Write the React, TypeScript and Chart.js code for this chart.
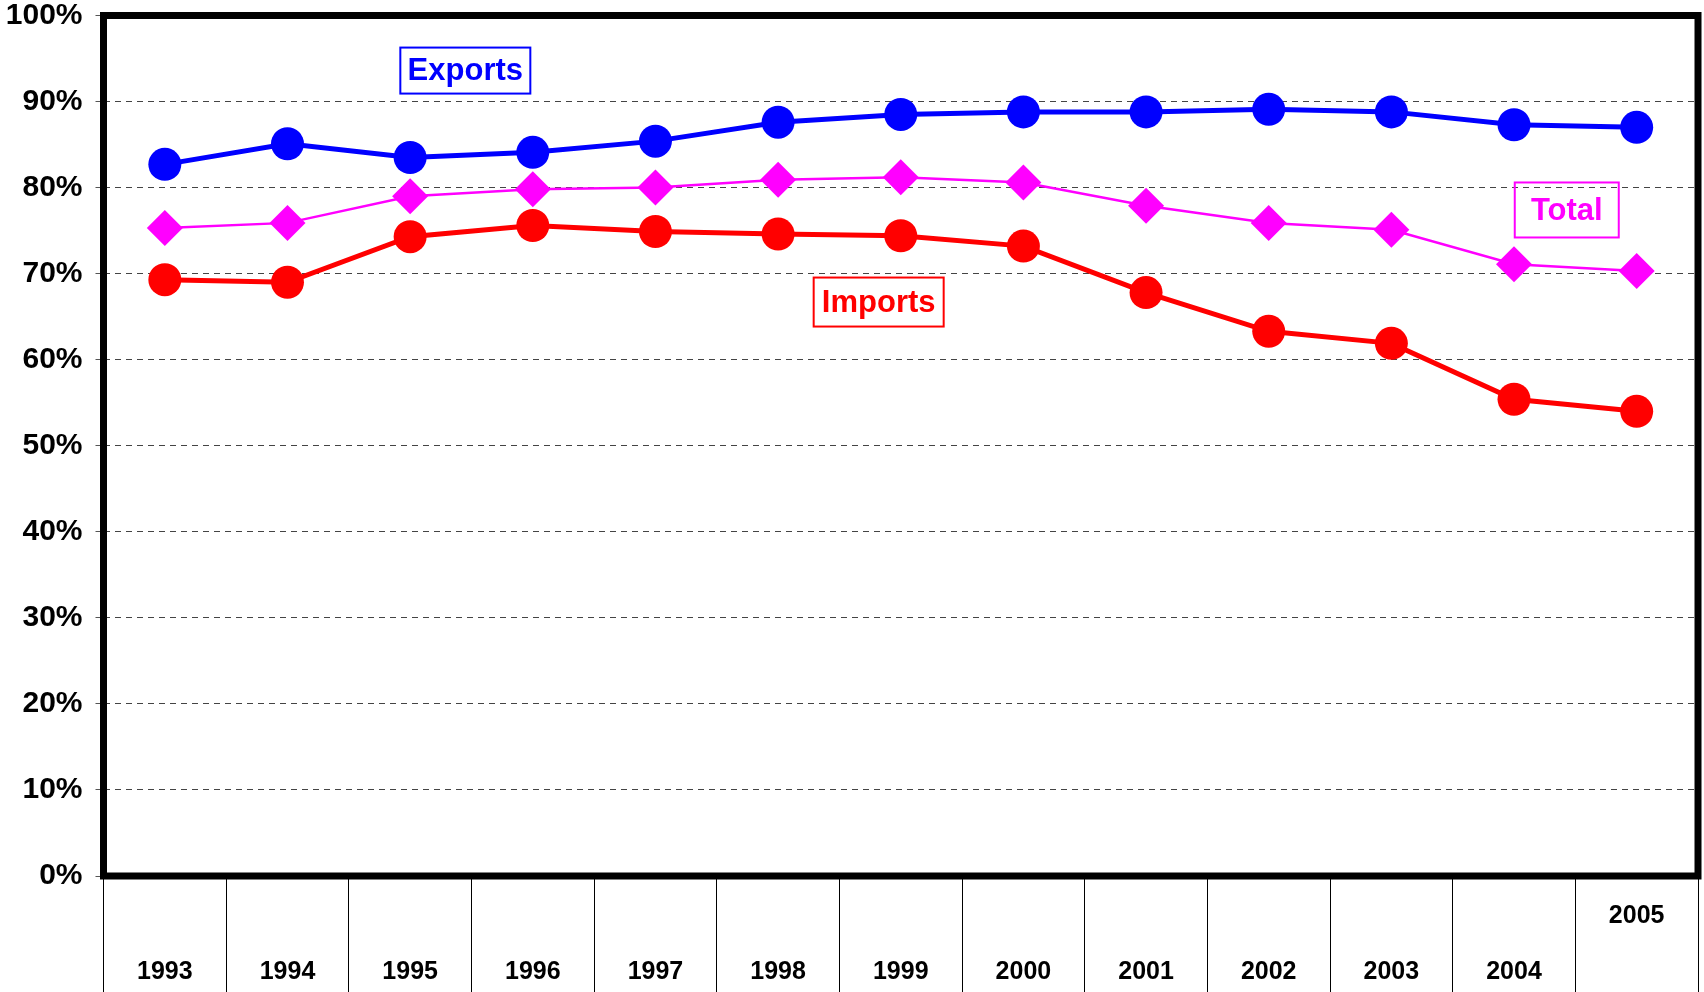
import React, { useEffect, useRef } from 'react';
import { Chart, registerables } from 'chart.js';

Chart.register(...registerables);

const years = ['1993', '1994', '1995', '1996', '1997', '1998', '1999', '2000', '2001', '2002', '2003', '2004', '2005'];
const exportsShare = [82.7, 85.1, 83.5, 84.1, 85.4, 87.6, 88.5, 88.8, 88.8, 89.1, 88.8, 87.3, 87.0];
const totalShare = [75.3, 75.9, 79.0, 79.8, 80.0, 80.9, 81.2, 80.6, 77.9, 75.9, 75.1, 71.1, 70.3];
const importsShare = [69.3, 69.0, 74.3, 75.6, 74.9, 74.6, 74.4, 73.2, 67.8, 63.3, 61.9, 55.4, 54.0];
const seriesNames = ['Exports', 'Total', 'Imports'];

const FONT = '"Liberation Sans", Arial, Helvetica, sans-serif';
const BLUE = '#0000FF';
const MAGENTA = '#FF00FF';
const RED = '#FF0000';

const framePlugin = {
  id: 'frame',
  beforeDatasetsDraw(chart: any) {
    const { ctx, chartArea } = chart;
    ctx.save();
    ctx.strokeStyle = '#000';
    ctx.lineWidth = 7;
    ctx.strokeRect(chartArea.left, chartArea.top, chartArea.right - chartArea.left, chartArea.bottom - chartArea.top);
    ctx.restore();
  },
};

const boxLabelPlugin = {
  id: 'boxLabels',
  afterDatasetsDraw(chart: any, _args: any, opts: any) {
    const { ctx } = chart;
    const xs = chart.scales.x;
    const ys = chart.scales.y;
    ctx.save();
    ctx.font = `bold 31px ${FONT}`;
    ctx.textAlign = 'center';
    ctx.textBaseline = 'middle';
    for (const item of opts.items || []) {
      const cx = xs.getPixelForValue(item.x);
      const cy = ys.getPixelForValue(item.y);
      const w = item.w;
      const h = item.h;
      ctx.strokeStyle = item.color;
      ctx.lineWidth = 2;
      ctx.strokeRect(cx - w / 2, cy - h / 2, w, h);
      ctx.fillStyle = item.color;
      ctx.fillText(item.text, cx, cy + 1);
    }
    ctx.restore();
  },
};

export default function App() {
  const ref = useRef<HTMLCanvasElement>(null);

  useEffect(() => {
    if (!ref.current) return;
    const chart = new Chart(ref.current, {
      type: 'line',
      data: {
        labels: years,
        datasets: [
          {
            label: seriesNames[0],
            data: exportsShare,
            borderColor: BLUE,
            backgroundColor: BLUE,
            borderWidth: 5,
            pointStyle: 'circle',
            pointRadius: 16.5,
            pointBorderWidth: 0,
            pointBackgroundColor: BLUE,
          },
          {
            label: seriesNames[1],
            data: totalShare,
            borderColor: MAGENTA,
            backgroundColor: MAGENTA,
            borderWidth: 2.5,
            pointStyle: 'rectRot',
            pointRadius: 18,
            pointBorderWidth: 0,
            pointBackgroundColor: MAGENTA,
          },
          {
            label: seriesNames[2],
            data: importsShare,
            borderColor: RED,
            backgroundColor: RED,
            borderWidth: 5,
            pointStyle: 'circle',
            pointRadius: 16.5,
            pointBorderWidth: 0,
            pointBackgroundColor: RED,
          },
        ],
      },
      options: {
        responsive: false,
        animation: false,
        devicePixelRatio: 1,
        layout: { autoPadding: false, padding: { top: 15.5, right: 6, left: 0, bottom: 0 } },
        plugins: {
          legend: { display: false },
          tooltip: { enabled: false },
          boxLabels: {
            items: [
              { text: seriesNames[0], color: BLUE, x: 2.45, y: 93.6, w: 130, h: 46 },
              { text: seriesNames[2], color: RED, x: 5.82, y: 66.7, w: 130, h: 49 },
              { text: seriesNames[1], color: MAGENTA, x: 11.43, y: 77.4, w: 104, h: 55 },
            ],
          },
        } as any,
        scales: {
          x: {
            type: 'category',
            offset: true,
            border: { display: false },
            grid: {
              display: true,
              offset: true,
              drawOnChartArea: false,
              drawTicks: true,
              tickLength: 116,
              color: '#000',
              lineWidth: 1,
            },
            ticks: {
              autoSkip: false,
              maxRotation: 0,
              minRotation: 0,
              padding: -104,
              color: '#000',
              font: { family: FONT, size: 25, weight: 'bold', lineHeight: 2.24 },
              callback: (_v: any, i: number) => (i === years.length - 1 ? [years[i], ''] : ['', years[i]]),
            },
            afterFit: (scale: any) => {
              scale.height = 116;
              scale.paddingLeft = 0;
              scale.paddingRight = 0;
            },
          },
          y: {
            min: 0,
            max: 100,
            border: { display: false, dash: [6, 5] },
            grid: {
              color: '#444',
              lineWidth: 1,
              drawTicks: true,
              tickLength: 8,
              tickColor: '#555',
              tickWidth: 1,
              tickBorderDash: [],
            },
            ticks: {
              stepSize: 10,
              padding: 13,
              color: '#000',
              font: { family: FONT, size: 30, weight: 'bold' },
              callback: (v: any) => `${v}%`,
            },
            afterFit: (scale: any) => {
              scale.width = 103.5;
              scale.paddingTop = 0;
              scale.paddingBottom = 0;
            },
          },
        },
      } as any,
      plugins: [framePlugin, boxLabelPlugin],
    });
    return () => chart.destroy();
  }, []);

  return (
    <div
      style={{
        position: 'fixed',
        left: 0,
        top: 0,
        width: 1704,
        height: 992,
        overflow: 'hidden',
        background: '#fff',
      }}
    >
      <canvas ref={ref} width={1704} height={992} style={{ display: 'block', width: 1704, height: 992 }} />
    </div>
  );
}
